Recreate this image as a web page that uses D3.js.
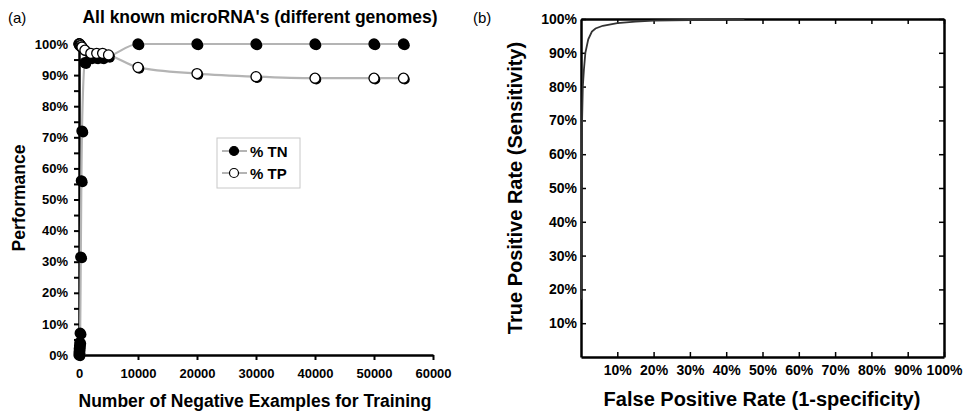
<!DOCTYPE html>
<html>
<head>
<meta charset="utf-8">
<script src="https://cdn.jsdelivr.net/npm/d3@7"></script>
<style>
    body { margin: 0; background: #fff; }
    svg { font-family: "Liberation Sans", Arial, sans-serif; }
    .axis text { font-weight: bold; fill: #000; }
    .axis path, .axis line { stroke: #000; }
</style>
</head>
<body>
<div id="chart"></div>
<script>
// Panel (a): performance vs number of negative training examples
const negExamples = [0, 20, 50, 100, 150, 200, 300, 400, 500, 1000, 2000, 3000, 4000, 5000, 10000, 20000, 30000, 40000, 50000, 55000];
const pctTN = [0, 1, 2, 3, 4, 7, 31.5, 56, 72, 94, 95.5, 95.5, 95.5, 96, 100, 100, 100, 100, 100, 100];
const pctTP = [100, 100, 100, 100, 99.5, 99.5, 99.5, 99, 99, 98, 97, 97, 97, 96.5, 92.5, 90.5, 89.5, 89, 89, 89];
const xTicksA = [0, 10000, 20000, 30000, 40000, 50000, 60000];
const yTicksA = [0, 5, 10, 15, 20, 25, 30, 35, 40, 45, 50, 55, 60, 65, 70, 75, 80, 85, 90, 95, 100];
const legendLabels = ['% TN', '% TP'];

// Panel (b): ROC curve
const fprValues = [0, 0.002, 0.003, 0.005, 0.008, 0.012, 0.02, 0.03, 0.04, 0.06, 0.1, 0.15, 0.2, 0.3, 0.45];
const tprValues = [0.17, 0.5, 0.7, 0.8, 0.85, 0.9, 0.94, 0.963, 0.972, 0.98, 0.988, 0.992, 0.995, 0.997, 1.0];
const rocTicks = [0.1, 0.2, 0.3, 0.4, 0.5, 0.6, 0.7, 0.8, 0.9, 1.0];

const svg = d3.select('#chart')
    .append('svg')
    .attr('width', 972)
    .attr('height', 412);

svg.append('rect').attr('width', 972).attr('height', 412).attr('fill', '#fff');

// ---------- panel (a) ----------
const xA = d3.scaleLinear().domain([0, 60000]).range([79, 433]);
const yA = d3.scaleLinear().domain([0, 100]).range([355, 44]);

svg.append('text')
    .attr('x', 8).attr('y', 23)
    .style('font-size', '15px')
    .text('(a)');

svg.append('text')
    .attr('x', 260).attr('y', 23)
    .attr('text-anchor', 'middle')
    .style('font-size', '17.5px')
    .style('font-weight', 'bold')
    .text("All known microRNA's (different genomes)");

svg.append('g')
    .attr('class', 'axis')
    .attr('transform', 'translate(0,355)')
    .call(d3.axisBottom(xA).tickValues(xTicksA).tickFormat(d3.format('d')).tickSize(5).tickSizeOuter(0).tickPadding(9))
    .call(g => g.select('.domain').attr('stroke-width', 2.5))
    .call(g => g.selectAll('.tick line').attr('stroke-width', 2))
    .selectAll('text').style('font-size', '13px');

svg.append('g')
    .attr('class', 'axis')
    .attr('transform', 'translate(79,0)')
    .call(d3.axisLeft(yA).tickValues(yTicksA)
        .tickFormat(d => (d % 10 === 0 ? d + '%' : ''))
        .tickSize(5).tickSizeOuter(0).tickPadding(6))
    .call(g => g.select('.domain').attr('stroke-width', 2.5))
    .call(g => g.selectAll('.tick line').attr('stroke-width', 2))
    .selectAll('text').style('font-size', '13px');

svg.append('text')
    .attr('transform', 'translate(255,407)')
    .attr('text-anchor', 'middle')
    .style('font-size', '17.5px')
    .style('font-weight', 'bold')
    .text('Number of Negative Examples for Training');

svg.append('text')
    .attr('transform', 'translate(25,198) rotate(-90)')
    .attr('text-anchor', 'middle')
    .style('font-size', '17.5px')
    .style('font-weight', 'bold')
    .text('Performance');

const lineA = d3.line().curve(d3.curveMonotoneX);

function drawSeries(values, fill) {
    const pts = negExamples.map((n, i) => [xA(n), yA(values[i])]);
    svg.append('path')
        .attr('d', lineA(pts))
        .attr('fill', 'none')
        .attr('stroke', '#b4b4b4')
        .attr('stroke-width', 2.2);
    const g = svg.append('g');
    // small dark shadow under each marker
    g.selectAll('.shadow')
        .data(pts)
        .enter()
        .append('circle')
        .attr('cx', d => d[0] + 1.3)
        .attr('cy', d => d[1] + 1.3)
        .attr('r', 5)
        .attr('fill', '#000');
    g.selectAll('.marker')
        .data(pts)
        .enter()
        .append('circle')
        .attr('cx', d => d[0])
        .attr('cy', d => d[1])
        .attr('r', 5)
        .attr('fill', fill)
        .attr('stroke', '#000')
        .attr('stroke-width', 1.3);
}

drawSeries(pctTN, '#000');
drawSeries(pctTP, '#fff');

// legend
const legend = svg.append('g').attr('transform', 'translate(217,138)');
legend.append('rect')
    .attr('width', 83).attr('height', 50)
    .attr('fill', '#fff')
    .attr('stroke', '#c8c8c8')
    .attr('stroke-width', 1);
legendLabels.forEach((label, i) => {
    const cy = 13 + i * 22;
    legend.append('line')
        .attr('x1', 5).attr('x2', 30)
        .attr('y1', cy).attr('y2', cy)
        .attr('stroke', '#b4b4b4').attr('stroke-width', 2);
    legend.append('circle')
        .attr('cx', 17).attr('cy', cy).attr('r', 4.5)
        .attr('fill', i === 0 ? '#000' : '#fff')
        .attr('stroke', '#000').attr('stroke-width', 1.2);
    legend.append('text')
        .attr('x', 33).attr('y', cy + 5.5)
        .style('font-size', '15px')
        .style('font-weight', 'bold')
        .text(label);
});

// ---------- panel (b) ----------
const xB = d3.scaleLinear().domain([0, 1]).range([581, 944]);
const yB = d3.scaleLinear().domain([0, 1]).range([357, 19]);

svg.append('text')
    .attr('x', 473).attr('y', 23)
    .style('font-size', '15px')
    .text('(b)');

const pctFmt = d => Math.round(d * 100) + '%';

svg.append('g')
    .attr('class', 'axis')
    .attr('transform', 'translate(0,357)')
    .call(d3.axisBottom(xB).tickValues(rocTicks).tickFormat(pctFmt).tickSizeInner(-5).tickSizeOuter(0).tickPadding(8))
    .call(g => g.select('.domain').attr('stroke-width', 2.5))
    .call(g => g.selectAll('.tick line').attr('stroke-width', 1.5))
    .selectAll('text').style('font-size', '14px');

svg.append('g')
    .attr('class', 'axis')
    .attr('transform', 'translate(0,19)')
    .call(d3.axisTop(xB).tickValues(rocTicks).tickFormat('').tickSizeInner(-5).tickSizeOuter(0))
    .call(g => g.select('.domain').attr('stroke-width', 2.5))
    .call(g => g.selectAll('.tick line').attr('stroke-width', 1.5));

svg.append('g')
    .attr('class', 'axis')
    .attr('transform', 'translate(581,0)')
    .call(d3.axisLeft(yB).tickValues(rocTicks).tickFormat(pctFmt).tickSizeInner(-5).tickSizeOuter(0).tickPadding(4))
    .call(g => g.select('.domain').attr('stroke-width', 2.5))
    .call(g => g.selectAll('.tick line').attr('stroke-width', 1.5))
    .selectAll('text').style('font-size', '14px');

svg.append('g')
    .attr('class', 'axis')
    .attr('transform', 'translate(944,0)')
    .call(d3.axisRight(yB).tickValues(rocTicks).tickFormat('').tickSizeInner(-5).tickSizeOuter(0))
    .call(g => g.select('.domain').attr('stroke-width', 2.5))
    .call(g => g.selectAll('.tick line').attr('stroke-width', 1.5));

svg.append('text')
    .attr('transform', 'translate(762,406)')
    .attr('text-anchor', 'middle')
    .style('font-size', '20px')
    .style('font-weight', 'bold')
    .text('False Positive Rate (1-specificity)');

svg.append('text')
    .attr('transform', 'translate(522,188) rotate(-90)')
    .attr('text-anchor', 'middle')
    .style('font-size', '20px')
    .style('font-weight', 'bold')
    .text('True Positive Rate (Sensitivity)');

const lineB = d3.line()
    .x((d, i) => xB(fprValues[i]))
    .y(d => yB(d));

svg.append('path')
    .attr('d', lineB(tprValues))
    .attr('fill', 'none')
    .attr('stroke', '#333')
    .attr('stroke-width', 1.8);
</script>
</body>
</html>
